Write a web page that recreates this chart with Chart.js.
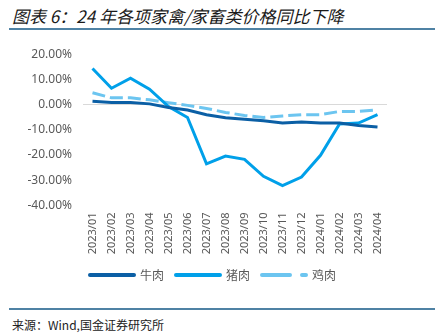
<!DOCTYPE html>
<html>
<head>
<meta charset="utf-8">
<script src="https://cdn.jsdelivr.net/npm/chart.js@4"></script>
<style>
  html, body { margin: 0; padding: 0; background: #fff; }
  body { width: 435px; height: 333px; position: relative; overflow: hidden; font-family: "Noto Sans CJK SC", sans-serif; }
  #title { position: absolute; left: 12px; top: 3px; font-size: 17px; font-style: italic; color: #1a1a1a; white-space: nowrap; }
  .rule { position: absolute; left: 9px; right: 0; height: 2px; background: #4f82a4; }
  #src { position: absolute; left: 12px; top: 316px; font-size: 12px; color: #222; white-space: nowrap; }
  #box { position: absolute; left: 0; top: 36px; width: 435px; height: 255px; }
</style>
</head>
<body>
<div id="title">图表 6：24 年各项家禽/家畜类价格同比下降</div>
<div class="rule" style="top:28px"></div>
<div id="box"><canvas id="c"></canvas></div>
<div class="rule" style="top:308px"></div>
<div id="src">来源：Wind,国金证券研究所</div>
<script>
// 月份
var months = ["2023/01","2023/02","2023/03","2023/04","2023/05","2023/06","2023/07","2023/08",
              "2023/09","2023/10","2023/11","2023/12","2024/01","2024/02","2024/03","2024/04"];
// 同比（%）
var niurou  = [1.3, 0.8, 0.8, 0.3, -1.1, -2.1, -4.0, -5.2, -5.8, -6.4, -7.3, -6.9, -7.3, -7.3, -8.3, -8.9];
var zhurou  = [14.3, 6.5, 10.5, 6.1, -0.8, -5.1, -23.5, -20.4, -21.7, -28.4, -32.1, -28.7, -20.1, -7.7, -7.3, -4.0];
var jirou   = [4.7, 2.7, 2.7, 1.9, 0.8, -0.3, -1.5, -3.1, -4.3, -5.1, -4.5, -4.0, -4.0, -2.7, -2.7, -2.1];
var yTicks  = [20, 10, 0, -10, -20, -30, -40];

var gray = "#595959";
var font = { family: "'Noto Sans', 'Noto Sans CJK SC', sans-serif", size: 12 };

new Chart(document.getElementById("c"), {
  type: "line",
  data: {
    labels: months,
    datasets: [
      { label: "牛肉", data: niurou, borderColor: "#0b5fa5", backgroundColor: "#0b5fa5", borderWidth: 3, pointRadius: 0, fill: false },
      { label: "猪肉", data: zhurou, borderColor: "#00a0e9", backgroundColor: "#00a0e9", borderWidth: 3, pointRadius: 0, fill: false },
      { label: "鸡肉", data: jirou, borderColor: "#6cc5f0", backgroundColor: "#6cc5f0", borderWidth: 3, borderDash: [13, 5], pointRadius: 0, fill: false }
    ]
  },
  options: {
    responsive: true,
    maintainAspectRatio: false,
    animation: false,
    layout: { padding: { left: 0, right: 9, top: 18, bottom: 0 } },
    plugins: {
      tooltip: { enabled: false },
      legend: {
        position: "bottom",
        labels: {
          usePointStyle: true,
          pointStyle: "line",
          pointStyleWidth: 44,
          boxWidth: 44,
          boxHeight: 3,
          padding: 12,
          color: gray,
          font: { family: "'Noto Sans CJK SC', sans-serif", size: 12 },
          generateLabels: function (chart) {
            var items = Chart.defaults.plugins.legend.labels.generateLabels(chart);
            items.forEach(function (it) {
              it.lineWidth = 4;
              it.lineCap = "round";
              if (it.datasetIndex === 2) it.lineDash = [28, 12];
            });
            return items;
          }
        }
      }
    },
    scales: {
      x: {
        offset: true,
        grid: { display: false, drawTicks: false },
        border: { display: false },
        afterFit: function (s) { s.height = 51.5; },
        ticks: { color: gray, font: { family: font.family, size: 11 }, minRotation: 90, maxRotation: 90, autoSkip: false, padding: 7 }
      },
      y: {
        min: -40, max: 20,
        afterBuildTicks: function (s) { s.ticks = yTicks.map(function (v) { return { value: v }; }); },
        afterFit: function (s) { s.width = 83; },
        border: { display: false },
        grid: {
          drawTicks: false,
          color: function (ctx) { return ctx.tick && ctx.tick.value === 0 ? "#d9d9d9" : "rgba(0,0,0,0)"; },
          lineWidth: 1
        },
        ticks: { color: gray, font: font, padding: 11, callback: function (v) { return v.toFixed(2) + "%"; } }
      },
      yRight: {
        position: "right",
        min: -40, max: 20,
        grid: { display: false },
        border: { display: false },
        ticks: { display: false },
        afterFit: function (s) { s.width = 39; }
      }
    }
  }
});
</script>
</body>
</html>
